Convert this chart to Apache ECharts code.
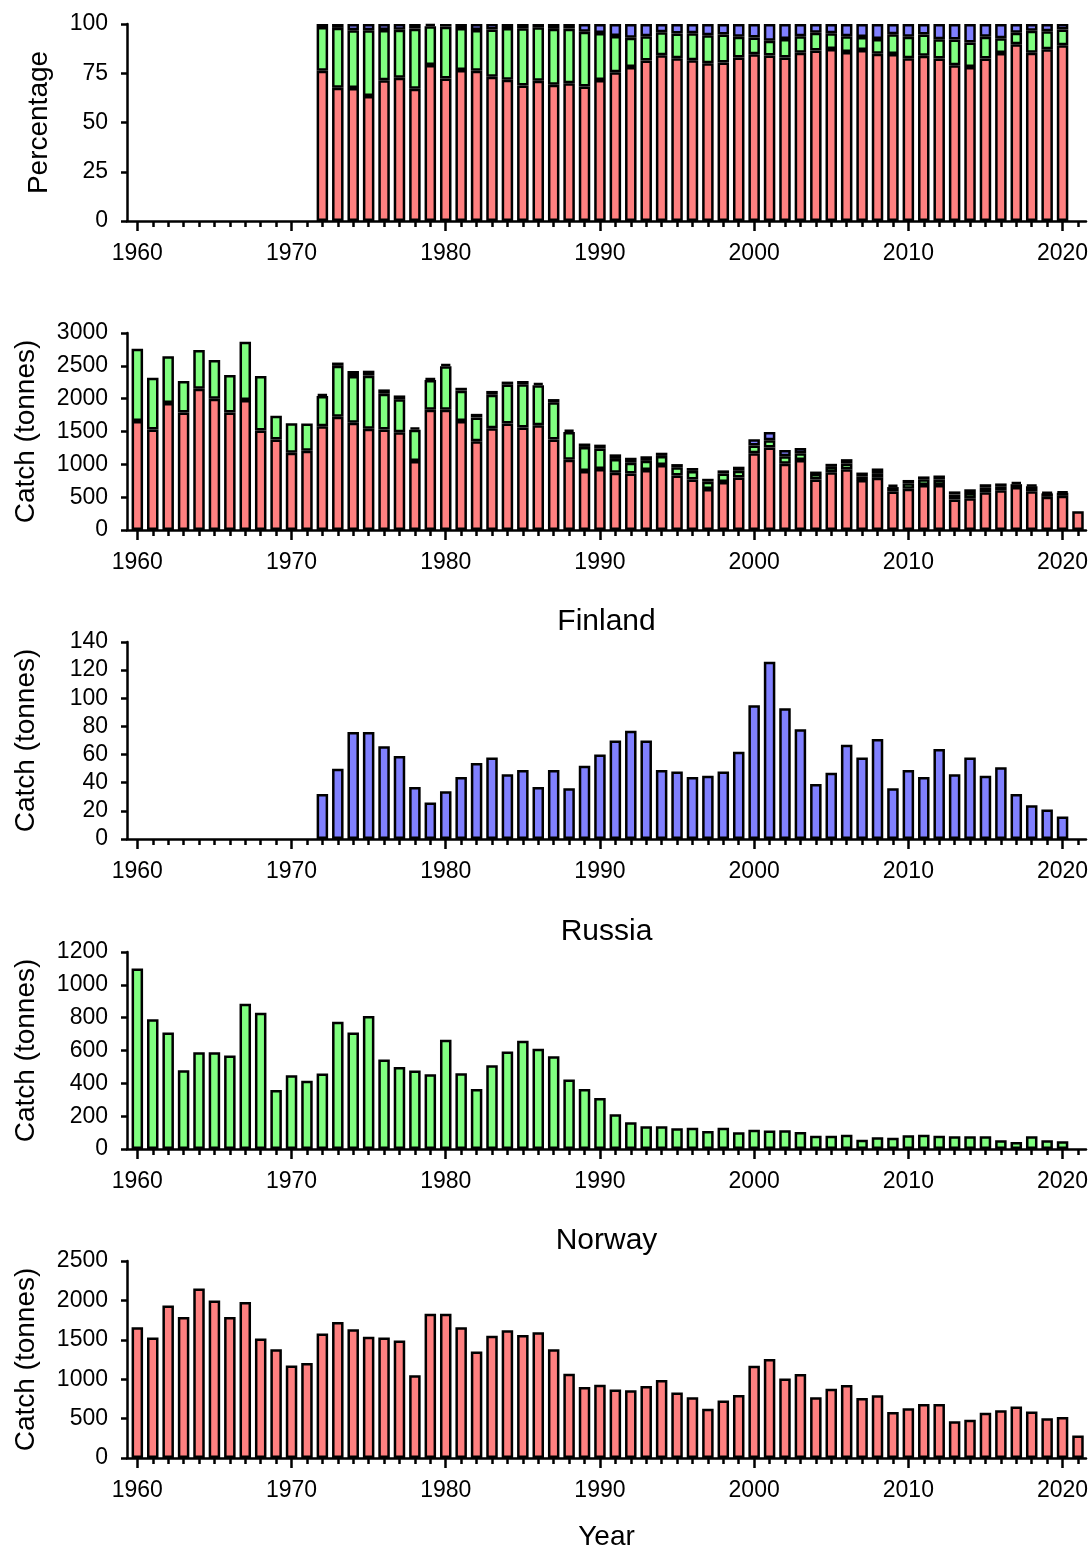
<!DOCTYPE html>
<html>
<head>
<meta charset="utf-8">
<script src="https://cdn.jsdelivr.net/npm/echarts@6/dist/echarts.min.js"></script>
<style>
  html, body { margin: 0; padding: 0; background: #fff; }
  #chart { width: 1091px; height: 1546px; }
</style>
</head>
<body>
<div id="chart"></div>
<script>
// Catch by country, 1960–2021 (tonnes)
const firstYear = 1960;
const lastYear = 2021;

// Norway, 1960–2021
const norwayCatch = [
  1660, 1530, 1935, 1790, 2150, 2000, 1790, 1980, 1515, 1380,
  1175, 1205, 1580, 1725, 1635, 1540, 1530, 1490, 1050, 1830,
  1830, 1660, 1350, 1550, 1620, 1560, 1595, 1380, 1070, 900,
  930, 870, 860, 915, 990, 830, 770, 625, 730, 800,
  1170, 1255, 1010, 1065, 770, 880, 925, 760, 795, 585,
  630, 685, 685, 465, 485, 575, 605, 655, 590, 505,
  520, 285
];

// Russia, 1960–2020
const russiaCatch = [
  1100, 790, 710, 480, 590, 590, 570, 885, 830, 360,
  450, 415, 460, 775, 710, 810, 545, 500, 478, 455,
  665, 462, 365, 510, 594, 660, 610, 565, 423, 365,
  310, 212, 163, 138, 138, 126, 130, 110, 130, 102,
  118, 112, 114, 104, 81, 81, 87, 57, 71, 69,
  83, 87, 81, 77, 77, 77, 53, 43, 77, 53,
  47
];

// Finland, 1972–2020
const finlandStart = 1972;
const finlandCatch = [
  32, 50, 76, 76, 66, 59, 37, 26, 34, 44,
  54, 58, 46, 49, 37, 49, 36, 52, 60, 70,
  77, 70, 49, 48, 44, 45, 48, 62, 95, 126,
  93, 78, 39, 47, 67, 58, 71, 36, 49, 44,
  64, 46, 58, 45, 51, 32, 24, 21, 16
];

// Axis ticks
const decadeTicks = [1960, 1970, 1980, 1990, 2000, 2010, 2020];
const yTicks = {
  pct:     { max: 100,  step: 25 },
  total:   { max: 3000, step: 500 },
  finland: { max: 140,  step: 20 },
  russia:  { max: 1200, step: 200 },
  norway:  { max: 2500, step: 500 }
};

// ---- series aligned on the full year range ----
const years = [];
for (let y = firstYear; y <= lastYear; y++) years.push(y);

const norwayByYear = years.map((y, i) => norwayCatch[i] ?? null);
const russiaByYear = years.map((y, i) => russiaCatch[i] ?? null);
const finlandByYear = years.map(y => {
  const v = finlandCatch[y - finlandStart];
  return v === undefined ? null : v;
});

// share of each country where all three reported
const pct = { norway: [], russia: [], finland: [] };
years.forEach((y, i) => {
  const n = norwayByYear[i], r = russiaByYear[i], f = finlandByYear[i];
  if (n === null || r === null || f === null) {
    pct.norway.push(null); pct.russia.push(null); pct.finland.push(null);
  } else {
    const t = n + r + f;
    pct.norway.push(n / t * 100);
    pct.russia.push(r / t * 100);
    pct.finland.push(f / t * 100);
  }
});

// ---- layout ----
const FONT = 'Liberation Sans, Arial, sans-serif';
const COL = { norway: '#FF8080', russia: '#80FF80', finland: '#8080FF' };
const panelTops = [24, 333, 642, 952, 1261];
const panelH = 197;
const axisLeft = 127, axisWidth = 959;
const xMin = 1959.33, xMax = 2021.52;
const pxPerYear = axisWidth / (xMax - xMin);
const barLeft = axisLeft + (firstYear - 0.5 - xMin) * pxPerYear;
const barWidthPx = years.length * pxPerYear;

const panels = [
  { key: 'pct',     name: 'Percentage',     gap: 74 },
  { key: 'total',   name: 'Catch (tonnes)', gap: 87 },
  { key: 'finland', name: 'Catch (tonnes)', gap: 87, title: 'Finland' },
  { key: 'russia',  name: 'Catch (tonnes)', gap: 87, title: 'Russia' },
  { key: 'norway',  name: 'Catch (tonnes)', gap: 87, title: 'Norway' }
];

const grid = [], xAxis = [], yAxis = [], series = [], title = [];
const black = '#000';

panels.forEach((p, k) => {
  const top = panelTops[k];
  const range = yTicks[p.key];
  // axes frame
  grid.push({ left: axisLeft, top: top, width: axisWidth, height: panelH, outerBoundsMode: 'none', containLabel: false });
  // bar area (one band per year)
  grid.push({ left: barLeft, top: top, width: barWidthPx, height: panelH, outerBoundsMode: 'none', containLabel: false });

  const gA = 2 * k, gB = 2 * k + 1;
  const last = k === panels.length - 1;

  xAxis.push({
    type: 'value', gridIndex: gA, min: xMin, max: xMax,
    splitLine: { show: false },
    axisLine: { show: true, lineStyle: { color: black, width: 2.5 } },
    axisTick: { show: true, customValues: decadeTicks, length: 10, lineStyle: { color: black, width: 2.5 } },
    axisLabel: { show: true, customValues: decadeTicks, margin: 21, color: black, fontFamily: FONT, fontSize: 23,
                 formatter: v => String(Math.round(v)) },
    name: last ? 'Year' : '', nameLocation: 'middle', nameGap: 65,
    nameTextStyle: { color: black, fontFamily: FONT, fontSize: 28 }
  });
  xAxis.push({
    type: 'category', gridIndex: gB, data: years, boundaryGap: true,
    axisLine: { show: false },
    axisTick: { show: true, alignWithLabel: true, interval: 0, length: 6, lineStyle: { color: black, width: 2.5 } },
    axisLabel: { show: false }
  });

  yAxis.push({
    type: 'value', gridIndex: gA, min: 0, max: range.max, interval: range.step,
    splitLine: { show: false },
    axisLine: { show: true, lineStyle: { color: black, width: 2.5 } },
    axisTick: { show: true, length: 6, lineStyle: { color: black, width: 2.5 } },
    axisLabel: { margin: 19, color: black, fontFamily: FONT, fontSize: 23, formatter: v => String(v) },
    name: p.name, nameLocation: 'middle', nameRotate: 90, nameGap: p.gap,
    nameTextStyle: { color: black, fontFamily: FONT, fontSize: 28 }
  });
  yAxis.push({
    type: 'value', gridIndex: gB, min: 0, max: range.max, show: false,
    splitLine: { show: false }
  });

  if (p.title) {
    title.push({
      text: p.title, left: axisLeft + axisWidth / 2, top: top - 35, textAlign: 'center', padding: 0,
      textStyle: { color: black, fontFamily: FONT, fontSize: 30, fontWeight: 'normal', lineHeight: 30 }
    });
  }
});

function bars(k, data, color, stack) {
  return {
    type: 'bar', xAxisIndex: 2 * k + 1, yAxisIndex: 2 * k + 1,
    data: data, stack: stack, barWidth: 11.5,
    itemStyle: { color: color, borderColor: black, borderWidth: 2.5 },
    animation: false, silent: true
  };
}

series.push(bars(0, pct.norway, COL.norway, 'pct'));
series.push(bars(0, pct.russia, COL.russia, 'pct'));
series.push(bars(0, pct.finland, COL.finland, 'pct'));
series.push(bars(1, norwayByYear, COL.norway, 'total'));
series.push(bars(1, russiaByYear, COL.russia, 'total'));
series.push(bars(1, finlandByYear, COL.finland, 'total'));
series.push(bars(2, finlandByYear, COL.finland));
series.push(bars(3, russiaByYear, COL.russia));
series.push(bars(4, norwayByYear, COL.norway));

const chart = echarts.init(document.getElementById('chart'), null, { renderer: 'canvas' });
chart.setOption({
  backgroundColor: '#fff',
  animation: false,
  title: title,
  grid: grid,
  xAxis: xAxis,
  yAxis: yAxis,
  series: series
});
</script>
</body>
</html>
